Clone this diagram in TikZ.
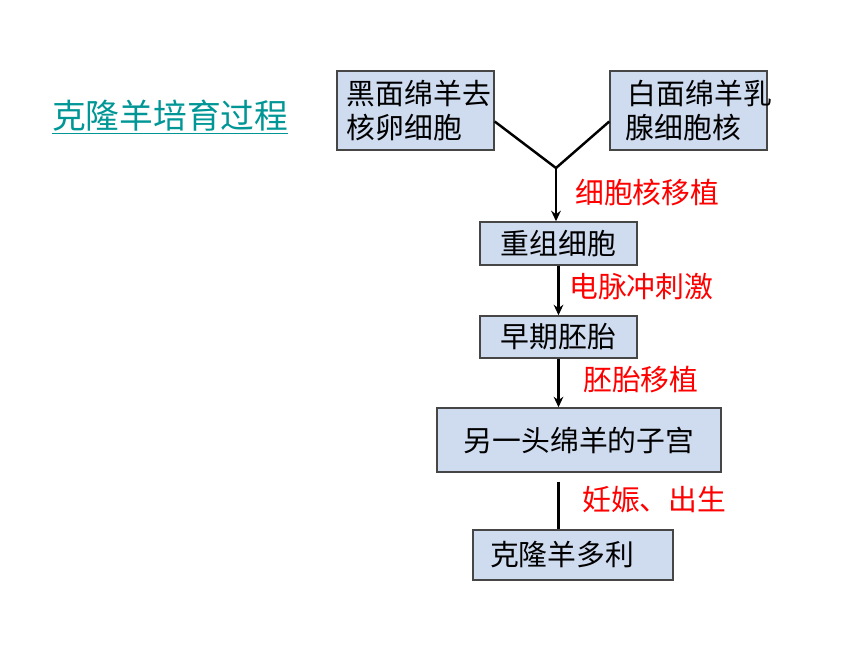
\documentclass[tikz,border=0pt]{standalone}
\usepackage{fontspec}
\setmainfont{Noto Sans CJK SC}
\usepackage{xcolor}
\usetikzlibrary{calc,arrows.meta}
\definecolor{boxfill}{RGB}{207,220,240}
\definecolor{boxdraw}{RGB}{70,70,70}
\definecolor{titleteal}{RGB}{0,150,150}

\begin{document}
\begin{tikzpicture}[
        x=0.02cm, y=-0.02cm,
        stage/.style={rectangle, draw=boxdraw, fill=boxfill, line width=0.8pt, inner sep=0pt, font=\fontsize{16.4}{19.5}\selectfont},
        cell/.style={stage, align=left, text width=157*0.02cm, minimum height=79*0.02cm},
        arrow/.style={-{Stealth[length=6pt,width=5.5pt]}, line width=1.4pt},
        link/.style={line width=1.4pt},
        step label/.style={text=red, font=\fontsize{16.4}{19.5}\selectfont, anchor=west}
    ]
        \useasboundingbox (0,0) rectangle (860,645);

        % ========== TITLE ==========
        \node[font=\fontsize{19.2}{23}\selectfont, text=titleteal, anchor=west] (title) at (46,117) {\underline{克隆羊培育过程}};

        % ========== DONOR CELLS ==========
        \node[cell] (egg) at (415.5,110.5) {\hspace*{0.2cm}黑面绵羊去\\\hspace*{0.2cm}核卵细胞};
        \node[cell] (nucleus) at (688.5,110.5) {\hspace*{0.36cm}白面绵羊乳\\\hspace*{0.32cm}腺细胞核};
        \coordinate (join) at (556,168);

        % ========== STAGES ==========
        \node[stage, minimum width=157*0.02cm, minimum height=43*0.02cm] (recomb) at (558.5,243.5) {重组细胞};
        \node[stage, minimum width=157*0.02cm, minimum height=42*0.02cm] (embryo) at (558.5,337) {早期胚胎};
        \node[stage, minimum width=284*0.02cm, minimum height=64*0.02cm] (womb) at (579,440) {另一头绵羊的子宫};
        \node[stage, minimum width=200*0.02cm, minimum height=50*0.02cm, text width=166*0.02cm, align=left] (dolly) at (573,555) {克隆羊多利};

        % ========== CONNECTORS ==========
        \draw[link] ($(egg.east)+(0,11)$) -- (join);
        \draw[link] ($(nucleus.west)+(0,11)$) -- (join);
        \draw[arrow] (join) -- (recomb.north -| join);
        \draw[arrow] (recomb.south) -- (embryo.north);
        \draw[arrow] (embryo.south) -- (embryo.south |- womb.north);
        \draw[link] ($(embryo.south |- womb.south)+(0,9)$) -- (embryo.south |- dolly.north);

        % ========== STEP LABELS ==========
        \node[step label] (l1) at (569,193) {细胞核移植};
        \node[step label] (l2) at (563,287) {电脉冲刺激};
        \node[step label] (l3) at (577,380) {胚胎移植};
        \node[step label] (l4) at (576,500) {妊娠、出生};

    \end{tikzpicture}
\end{document}
